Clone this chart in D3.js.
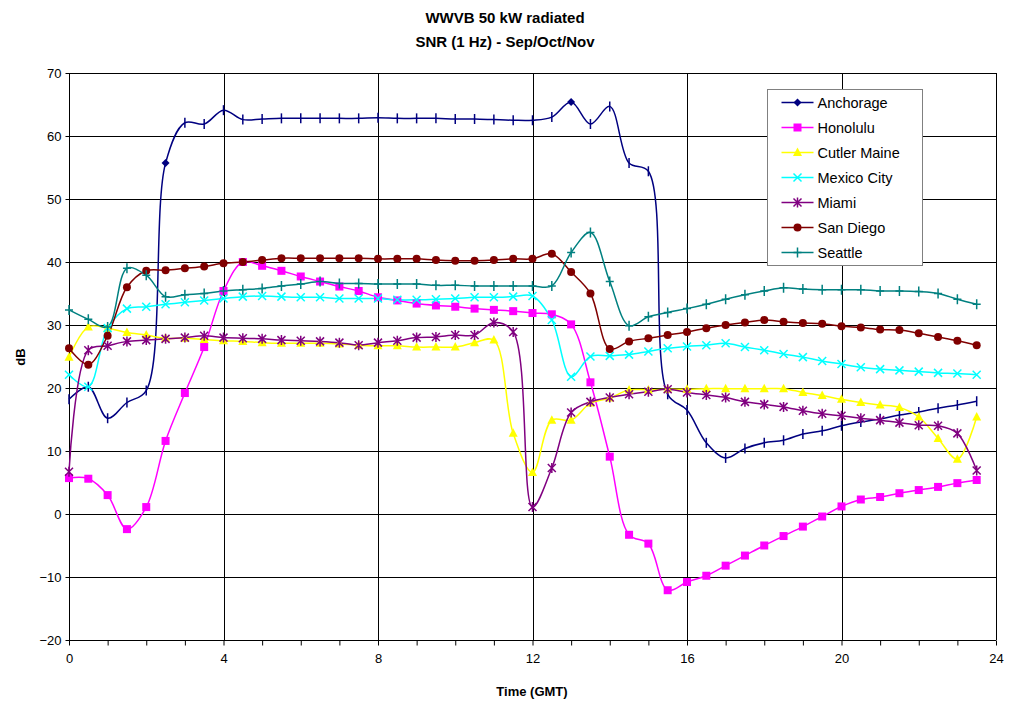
<!DOCTYPE html>
<html><head><meta charset="utf-8">
<script src="https://cdn.jsdelivr.net/npm/d3@7"></script>
<style>body{margin:0;background:#fff}svg{display:block;font-family:"Liberation Sans",Arial,sans-serif}</style>
</head><body><svg id="c" width="1011" height="705"></svg>
<script>
const hours = d3.range(0, 24, 0.5);
const xTicks = [0,4,8,12,16,20,24];
const yTicks = [-20,-10,0,10,20,30,40,50,60,70];
const seriesNames = ["Anchorage","Honolulu","Cutler Maine","Mexico City","Miami","San Diego","Seattle"];
const anchorage = [18.2,20.2,15.2,17.7,19.6,55.7,62.1,61.9,64.1,62.6,62.7,62.8,62.8,62.8,62.8,62.8,62.9,62.8,62.8,62.8,62.7,62.7,62.6,62.5,62.5,63.0,65.4,61.9,64.7,55.7,54.4,19.0,16.5,11.3,8.9,10.4,11.3,11.7,12.7,13.2,14.0,14.6,15.1,15.7,16.2,16.8,17.3,17.9];
const honolulu = [5.7,5.6,3.0,-2.4,1.1,11.6,19.2,26.5,35.4,40.0,39.4,38.6,37.7,36.9,36.1,35.4,34.4,33.9,33.4,33.1,32.9,32.6,32.4,32.2,31.9,31.7,30.1,20.9,9.1,-3.3,-4.7,-12.1,-10.8,-9.8,-8.2,-6.6,-5.0,-3.5,-2.0,-0.4,1.2,2.3,2.7,3.3,3.8,4.3,4.9,5.4];
const cutlerMaine = [24.9,29.7,29.5,28.8,28.4,27.9,27.9,27.7,27.5,27.4,27.2,27.1,27.1,27.1,27.0,26.8,26.7,26.7,26.5,26.5,26.5,27.2,27.6,12.8,6.6,14.9,14.9,17.6,18.4,19.7,19.7,19.8,19.8,19.9,19.9,19.9,19.9,19.9,19.3,18.8,18.2,17.7,17.3,16.9,15.4,12.0,8.7,15.4];
const mexicoCity = [22.1,20.2,29.5,32.6,32.9,33.3,33.6,33.9,34.2,34.5,34.6,34.5,34.4,34.4,34.2,34.2,34.2,34.0,34.0,34.1,34.2,34.4,34.4,34.5,34.6,30.8,21.8,25.0,25.1,25.3,25.8,26.3,26.6,26.8,27.1,26.5,26.0,25.4,24.9,24.3,23.8,23.3,23.0,22.8,22.6,22.4,22.3,22.1];
const miami = [6.7,26.0,26.7,27.4,27.6,27.8,28.0,28.3,28.0,27.9,27.8,27.6,27.5,27.4,27.2,26.8,27.2,27.5,28.0,28.1,28.4,28.4,30.4,28.9,1.1,7.3,16.1,17.8,18.5,19.0,19.4,19.8,19.3,18.9,18.5,17.8,17.4,17.0,16.4,15.9,15.6,15.2,14.9,14.5,14.1,14.0,12.8,6.9];
const sanDiego = [26.3,23.7,28.3,36.0,38.6,38.7,39.0,39.3,39.8,40.0,40.3,40.6,40.6,40.6,40.6,40.6,40.5,40.5,40.5,40.3,40.2,40.2,40.3,40.5,40.5,41.3,38.4,35.0,26.2,27.4,27.9,28.4,28.9,29.5,30.0,30.4,30.8,30.5,30.3,30.2,29.8,29.6,29.3,29.2,28.7,28.1,27.5,26.8];
const seattle = [32.4,30.9,29.7,39.0,37.9,34.5,34.8,35.0,35.4,35.6,35.8,36.2,36.5,36.9,36.6,36.6,36.5,36.5,36.5,36.3,36.3,36.2,36.2,36.2,36.2,36.2,41.5,44.7,36.9,29.9,31.3,32.0,32.6,33.3,34.1,34.8,35.4,35.9,35.7,35.6,35.6,35.6,35.4,35.4,35.3,35.0,34.1,33.3];
const anchorageDiamondHours = [2.5, 13];

const seriesValues = [anchorage,honolulu,cutlerMaine,mexicoCity,miami,sanDiego,seattle];
const colors = ["#000080","#FF00FF","#FFFF00","#00FFFF","#800080","#800000","#008080"];
const markers = ["tick","square","triangle","x","asterisk","circle","plus"];

const svg = d3.select("#c");
const L=69, R=996, T=73, B=640;
const x = d3.scaleLinear().domain([0,24]).range([L,R]);
const y = d3.scaleLinear().domain([-20,70]).range([B,T]);

// grid
const g = svg.append("g");
g.selectAll(".hg").data(yTicks).join("line")
 .attr("x1",L).attr("x2",R).attr("y1",d=>Math.round(y(d))+0.5).attr("y2",d=>Math.round(y(d))+0.5)
 .attr("stroke","#000").attr("stroke-width",1);
g.selectAll(".vg").data(xTicks).join("line")
 .attr("y1",T).attr("y2",B).attr("x1",d=>Math.round(x(d))+0.5).attr("x2",d=>Math.round(x(d))+0.5)
 .attr("stroke","#000").attr("stroke-width",1);

// axes
const xAxis = d3.axisBottom(x).tickValues(d3.range(0,25,1)).tickSize(5).tickFormat(d=> xTicks.includes(d)? d : "");
const xa = svg.append("g").attr("transform",`translate(0,${Math.round(y(-20))+0.5})`).call(xAxis);
xa.select(".domain").remove();
xa.selectAll("line").attr("stroke","#000");
xa.selectAll("text").attr("font-size",13).attr("fill","#000").attr("dy","1.1em");
const yAxis = d3.axisLeft(y).tickValues(yTicks).tickSize(4);
const ya = svg.append("g").attr("transform",`translate(${Math.round(x(0))+0.5},0)`).call(yAxis);
ya.select(".domain").remove();
ya.selectAll("line").attr("stroke","#000");
ya.selectAll("text").attr("font-size",13).attr("fill","#000").attr("x",-8);

// lines
const line = d3.line().x((d,i)=>x(hours[i])).y(d=>y(d)).curve(d3.curveCatmullRom.alpha(0.5));
function drawMarker(sel, type, color, hr){
  const s = 4;
  if(type==="tick"){
    if(anchorageDiamondHours.includes(hr)){
      sel.append("path").attr("d",`M0,${-s}L${s},0L0,${s}L${-s},0Z`).attr("fill",color);
    } else {
      sel.append("line").attr("x1",0).attr("x2",0).attr("y1",-5).attr("y2",5).attr("stroke",color).attr("stroke-width",1.5);
    }
  } else if(type==="square"){
    sel.append("rect").attr("x",-4).attr("y",-4).attr("width",8).attr("height",8).attr("fill",color);
  } else if(type==="triangle"){
    sel.append("path").attr("d","M0,-5L4.5,3.5L-4.5,3.5Z").attr("fill",color);
  } else if(type==="circle"){
    sel.append("circle").attr("r",4).attr("fill",color);
  } else if(type==="x"){
    sel.append("path").attr("d","M-4,-4L4,4M-4,4L4,-4").attr("stroke",color).attr("stroke-width",1.5);
  } else if(type==="asterisk"){
    sel.append("path").attr("d","M-4,-4L4,4M-4,4L4,-4M0,-5L0,5").attr("stroke",color).attr("stroke-width",1.5);
  } else if(type==="plus"){
    sel.append("path").attr("d","M-4,0L4,0M0,-5L0,5").attr("stroke",color).attr("stroke-width",1.5);
  }
}
seriesValues.forEach((vals,k)=>{
  svg.append("path").attr("d",line(vals)).attr("fill","none").attr("stroke",colors[k]).attr("stroke-width",1.5);
});
seriesValues.forEach((vals,k)=>{
  vals.forEach((v,i)=>{
    const m = svg.append("g").attr("transform",`translate(${x(hours[i])},${y(v)})`);
    drawMarker(m, markers[k], colors[k], hours[i]);
  });
});

// legend
const lg = svg.append("g").attr("transform","translate(767.5,89.5)");
lg.append("rect").attr("width",155).attr("height",176).attr("fill","#fff").attr("stroke","#808080").attr("stroke-width",1);
seriesNames.forEach((n,k)=>{
  const row = lg.append("g").attr("transform",`translate(0,${13+k*25})`);
  row.append("line").attr("x1",14).attr("x2",46).attr("stroke",colors[k]).attr("stroke-width",1.5);
  const m = row.append("g").attr("transform","translate(30,0)");
  drawMarker(m, markers[k], colors[k], k===0?2.5:null);
  row.append("text").attr("x",50).attr("y",5).attr("font-size",14.5).text(n);
});

// titles
svg.append("text").attr("x",505).attr("y",23).attr("text-anchor","middle").attr("font-size",15).attr("font-weight","bold").text("WWVB 50 kW radiated");
svg.append("text").attr("x",505).attr("y",47).attr("text-anchor","middle").attr("font-size",15).attr("font-weight","bold").text("SNR (1 Hz) - Sep/Oct/Nov");
svg.append("text").attr("x",532).attr("y",696).attr("text-anchor","middle").attr("font-size",13).attr("font-weight","bold").text("Time (GMT)");
svg.append("text").attr("transform","translate(25,357) rotate(-90)").attr("text-anchor","middle").attr("font-size",13).attr("font-weight","bold").text("dB");
</script></body></html>
